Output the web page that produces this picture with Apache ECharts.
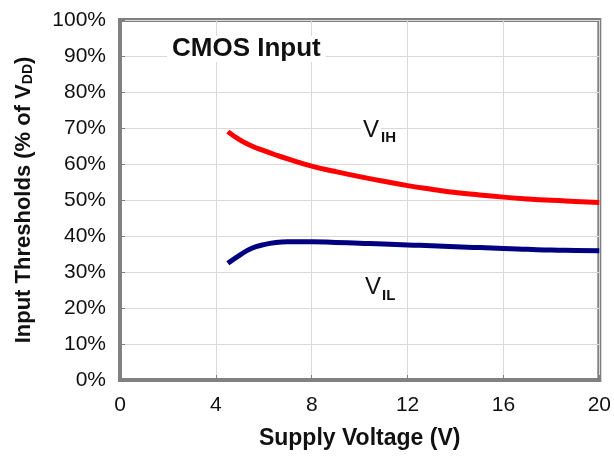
<!DOCTYPE html>
<html>
<head>
<meta charset="utf-8">
<script src="https://cdn.jsdelivr.net/npm/echarts@6/dist/echarts.min.js"></script>
<style>html,body{margin:0;padding:0;background:#fff;}#c{width:614px;height:459px;}</style>
</head>
<body>
<div id="c"></div>
<script>
const voltage = [4.5, 5.0, 5.5, 6.0, 6.5, 7, 8, 9, 10, 11, 12, 13, 14, 15, 16, 17, 18, 19, 20];
const vih = [69.0, 66.7, 65.0, 63.7, 62.5, 61.4, 59.4, 57.9, 56.5, 55.2, 54.0, 53.0, 52.1, 51.4, 50.8, 50.3, 49.9, 49.6, 49.3];
const vil = [32.4, 34.7, 36.6, 37.6, 38.2, 38.4, 38.4, 38.2, 38.0, 37.8, 37.5, 37.3, 37.0, 36.8, 36.5, 36.3, 36.1, 36.0, 35.9];
const xTicks = [0, 4, 8, 12, 16, 20];
const yTicks = [0, 10, 20, 30, 40, 50, 60, 70, 80, 90, 100];

const FONT = '"Liberation Sans", Arial, sans-serif';
const chart = echarts.init(document.getElementById('c'));
const pairs = a => voltage.map((v, i) => [v, a[i]]);

chart.setOption({
  animation: false,
  backgroundColor: '#fff',
  grid: { left: 120, right: 14, top: 20, bottom: 79, show: true, borderColor: '#808080', borderWidth: 4, backgroundColor: 'transparent' },
  xAxis: {
    type: 'value', min: xTicks[0], max: xTicks[xTicks.length - 1], interval: 4,
    name: 'Supply Voltage (V)', nameLocation: 'middle', nameGap: 47,
    nameTextStyle: { fontFamily: FONT, fontSize: 23, fontWeight: 'bold', color: '#111' },
    axisLine: { show: true, lineStyle: { color: '#808080', width: 4 } },
    axisTick: { show: true, inside: true, length: 5, lineStyle: { color: '#808080', width: 1 } },
    axisLabel: { fontFamily: FONT, fontSize: 21, color: '#111', margin: 15 },
    splitLine: { show: true, lineStyle: { color: '#d9d9d9', width: 1 } }
  },
  yAxis: {
    type: 'value', min: yTicks[0], max: yTicks[yTicks.length - 1], interval: 10,
    name: '{a|Input Thresholds (% of V}{s|DD}{a|)}', nameLocation: 'middle', nameGap: 85,
    nameTextStyle: {
      fontFamily: FONT, fontSize: 22, fontWeight: 'bold', color: '#111',
      rich: {
        a: { fontFamily: FONT, fontSize: 22, fontWeight: 'bold', color: '#111', lineHeight: 24, verticalAlign: 'bottom' },
        s: { fontFamily: FONT, fontSize: 14, fontWeight: 'bold', color: '#111', lineHeight: 14, verticalAlign: 'bottom' }
      }
    },
    axisLine: { show: true, lineStyle: { color: '#808080', width: 4 } },
    axisTick: { show: true, inside: true, length: 5, lineStyle: { color: '#808080', width: 1 } },
    axisLabel: { fontFamily: FONT, fontSize: 21, color: '#111', margin: 14, formatter: '{value}%' },
    splitLine: { show: true, lineStyle: { color: '#d9d9d9', width: 1 } }
  },
  series: [
    { name: 'VIH', type: 'line', data: pairs(vih), smooth: 0.5, showSymbol: false, symbol: 'none',
      lineStyle: { color: '#ff0000', width: 5 }, z: 3 },
    { name: 'VIL', type: 'line', data: pairs(vil), smooth: 0.5, showSymbol: false, symbol: 'none',
      lineStyle: { color: '#000080', width: 5 }, z: 3 }
  ],
  graphic: [
    { type: 'text', left: 167, top: 36, z: 10,
      style: { text: 'CMOS Input', fontFamily: FONT, fontSize: 26, fontWeight: 'bold', fill: '#111',
               backgroundColor: '#fff', padding: [0, 5] } },
    { type: 'text', x: 361, y: 130, z: 10,
      style: { text: 'V', fontFamily: FONT, fontSize: 24, fill: '#111', verticalAlign: 'middle',
               backgroundColor: '#fff', padding: [0, 2] } },
    { type: 'text', x: 381, y: 138, z: 10,
      style: { text: 'IH', fontFamily: FONT, fontSize: 15, fontWeight: 'bold', fill: '#111', verticalAlign: 'middle',
               backgroundColor: '#fff', padding: [0, 2, 0, 0] } },
    { type: 'text', x: 363, y: 287, z: 10,
      style: { text: 'V', fontFamily: FONT, fontSize: 24, fill: '#111', verticalAlign: 'middle',
               backgroundColor: '#fff', padding: [0, 2] } },
    { type: 'text', x: 382, y: 296, z: 10,
      style: { text: 'IL', fontFamily: FONT, fontSize: 15, fontWeight: 'bold', fill: '#111', verticalAlign: 'middle' } }
  ]
});
</script>
</body>
</html>
